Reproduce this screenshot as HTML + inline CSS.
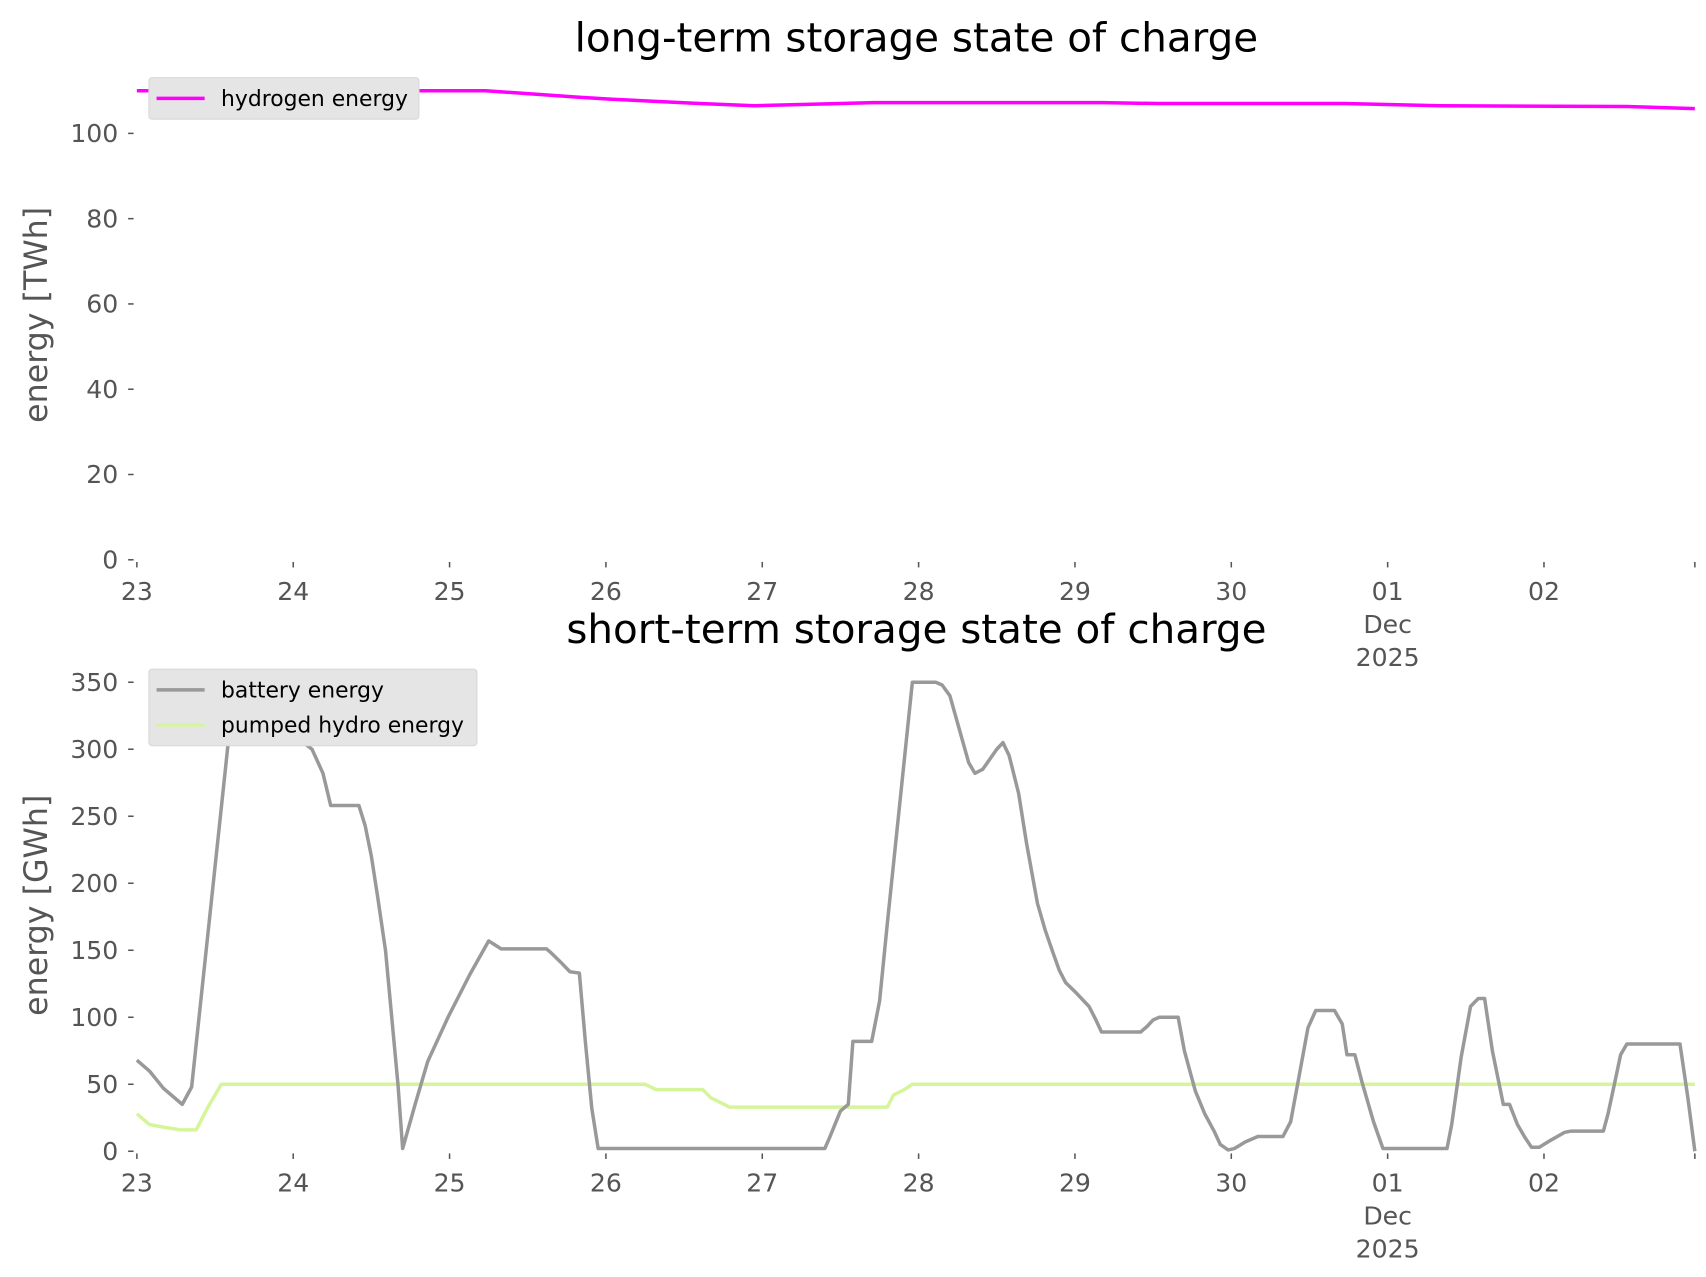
<!DOCTYPE html>
<html><head><meta charset="utf-8"><style>
html,body{margin:0;padding:0;background:#fff;}
svg{display:block;font-family:"DejaVu Sans","Liberation Sans",sans-serif;}
</style></head><body>
<svg id="chart" width="1706" height="1277" viewBox="0 0 1560 1168" xmlns="http://www.w3.org/2000/svg"></svg>
<script>
// data (x in days since 23 Nov 00:00)
const batteryDays = [0,0.08,0.17,0.29,0.35,0.61,0.68,0.80,1.01,1.12,1.19,1.24,1.42,1.46,1.50,1.54,1.59,1.63,1.67,1.70,1.78,1.86,1.99,2.13,2.25,2.33,2.62,2.65,2.72,2.77,2.83,2.87,2.91,2.95,4.40,4.43,4.50,4.55,4.58,4.70,4.75,4.80,4.96,5.11,5.15,5.20,5.26,5.32,5.36,5.41,5.50,5.54,5.58,5.64,5.69,5.76,5.81,5.86,5.90,5.94,6.01,6.09,6.13,6.17,6.42,6.46,6.50,6.54,6.66,6.70,6.77,6.83,6.89,6.93,6.98,7.02,7.09,7.17,7.33,7.38,7.44,7.49,7.54,7.66,7.71,7.74,7.79,7.84,7.91,7.97,8.38,8.41,8.47,8.53,8.58,8.62,8.67,8.74,8.78,8.83,8.88,8.92,8.97,9.04,9.13,9.17,9.38,9.41,9.45,9.49,9.53,9.87,9.92,9.965];
const batteryValues = [68,60,47,35,48,333,325,316,310,300,282,258,258,243,220,190,150,100,50,2,35,67,100,132,157,151,151,148,140,134,133,80,32,2,2,10,30,35,82,82,112,170,350,350,348,340,315,290,282,285,300,305,295,267,230,185,165,148,135,126,118,108,99,89,89,93,98,100,100,75,45,28,15,5,1,2,7,11,11,22,60,92,105,105,95,72,72,50,22,2,2,20,70,108,114,114,75,35,35,20,10,3,3,8,14,15,15,28,50,72,80,80,40,0];
const hydroDays = [0,0.08,0.17,0.28,0.38,0.45,0.54,3.25,3.32,3.62,3.67,3.74,3.79,4.80,4.84,4.91,4.96,9.965];
const hydroValues = [28,20,18,16,16,32,50,50,46,46,40,36,33,33,42,46,50,50];
const h2Days = [0,2.23,2.83,3.04,3.60,3.95,4.50,4.71,6.18,6.53,7.72,8.34,9.53,9.965];
const h2Values = [110,110,108.5,108,107,106.5,107,107.2,107.2,107,107,106.5,106.3,105.8];
const xTickDays = [0,1,2,3,4,5,6,7,8,9];
const xTickLabels = [["23"],["24"],["25"],["26"],["27"],["28"],["29"],["30"],["01","Dec","2025"],["02"]];
const topYTicks = [0,20,40,60,80,100];
const botYTicks = [0,50,100,150,200,250,300,350];

const NS="http://www.w3.org/2000/svg";
const svg=document.getElementById('chart');
function mk(tag,attrs,parent){const e=document.createElementNS(NS,tag);for(const k in attrs)e.setAttribute(k,attrs[k]);(parent||svg).appendChild(e);return e;}
const X0=125,X1=1550,DMAX=9.965;
const xs=d=>X0+(d/DMAX)*(X1-X0);
const yTop=v=>512-v*3.9;
const yBot=v=>1053-v*(429/350);

function axes(ys,yTicks,title,titleY,ylab,ylabY,pfx,tickBase){
  const g=mk('g',{});
  
  
  const t=mk('text',{x:838,y:titleY,'text-anchor':'middle','font-size':37,fill:'#000'},g);
  t.textContent=title;
  
  
  const yl=mk('text',{x:0,y:0,transform:`translate(43,${ylabY}) rotate(-90)`,'text-anchor':'middle','font-size':29,fill:'#555'},g);
  yl.textContent=ylab;
  
  
  yTicks.forEach(v=>{
    const y=ys(v);
    mk('line',{x1:117,x2:122,y1:y,y2:y,stroke:'#555','stroke-width':1.4},g);
    const l=mk('text',{x:108,y:y+8,'text-anchor':'end','font-size':23,fill:'#555'},g);
    l.textContent=String(v);
    
    
  });
  const base=ys(0);
  xTickDays.concat([DMAX]).forEach(d=>{
    const x=xs(d);
    mk('line',{x1:x,x2:x,y1:base+2,y2:base+7,stroke:'#555','stroke-width':1.4},g);
  });
  xTickDays.forEach((d,i)=>{
    xTickLabels[i].forEach((s,j)=>{
      const l=mk('text',{x:xs(d),y:base+tickBase+j*30,'text-anchor':'middle','font-size':23,fill:'#555'},g);
      l.textContent=s;
      
      
    });
  });
}
function line(days,vals,ys,color,name){
  const p=days.map((d,i)=>(i?'L':'M')+xs(d).toFixed(1)+','+ys(vals[i]).toFixed(1)).join('');
  const e=mk('path',{d:p,fill:'none',stroke:color,'stroke-width':3.2,'stroke-linejoin':'round'});
  
  
}
function legend(x,y,w,h,items,pfx){
  const g=mk('g',{});
  
  
  mk('rect',{x:x,y:y,width:w,height:h,rx:3,fill:'#e5e5e5',stroke:'#d8d8d8'},g);
  items.forEach((it,i)=>{
    const cy=y+19+i*32;
    mk('line',{x1:x+7,x2:x+51,y1:cy,y2:cy,stroke:it[1],'stroke-width':3.2},g);
    const t=mk('text',{x:x+66,y:cy+7,'font-size':20,fill:'#000'},g);
    t.textContent=it[0];
    
    
  });
}
axes(yTop,topYTicks,'long-term storage state of charge',47,'energy [TWh]',288,'top',37);
axes(yBot,botYTicks,'short-term storage state of charge',588,'energy [GWh]',828,'bottom',37);
line(h2Days,h2Values,yTop,'#ff00ff','hydrogen-energy-line');
line(hydroDays,hydroValues,yBot,'#d6f59b','pumped-hydro-line');
line(batteryDays,batteryValues,yBot,'#999999','battery-line');
legend(136,71,247,38,[['hydrogen energy','#ff00ff']],'top');
legend(136,612,300,70,[['battery energy','#999999'],['pumped hydro energy','#d6f59b']],'bottom');
</script>
</body></html>
